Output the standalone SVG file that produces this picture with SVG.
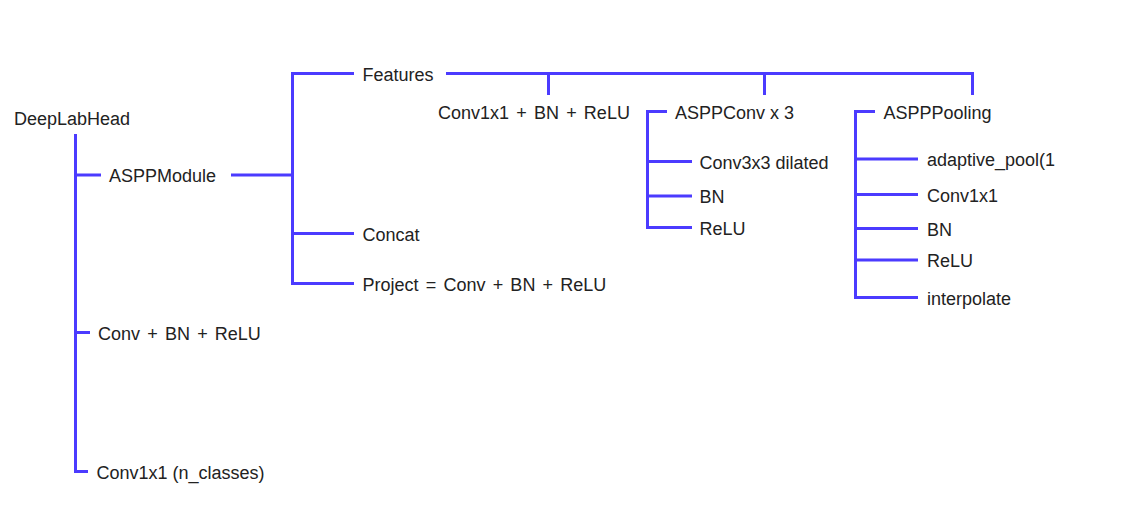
<svg xmlns="http://www.w3.org/2000/svg" width="1134" height="523" viewBox="0 0 1134 523">
<style>
.c{fill:none;stroke:#4B3BFF;stroke-width:3;stroke-linecap:butt;stroke-linejoin:miter}
.t{font-family:"Liberation Sans",Arial,sans-serif;font-size:18px;fill:#222}
.w{word-spacing:2.2px}
</style>
<defs>
<clipPath id="clipR"><rect x="0" y="0" width="1058" height="523"/></clipPath>
</defs>
<rect width="1134" height="523" fill="#fff"/>
<g id="connectors">
<path class="c" d="M75.5,134 V471.5 H88"/>
<path class="c" d="M75.5,175 H101"/>
<path class="c" d="M75.5,332.5 H90"/>
<path class="c" d="M231,175 H292.5"/>
<path class="c" d="M354,73.5 H292.5 V283.5 H354"/>
<path class="c" d="M292.5,233.5 H354"/>
<path class="c" d="M446,73.5 H972.5 V95"/>
<path class="c" d="M548.5,73.5 V95"/>
<path class="c" d="M764.5,73.5 V95"/>
<path class="c" d="M667,111.5 H647.5 V227.5 H692"/>
<path class="c" d="M647.5,161.5 H692"/>
<path class="c" d="M647.5,196 H692"/>
<path class="c" d="M875,111.5 H855.5 V297.5 H918"/>
<path class="c" d="M855.5,159 H918"/>
<path class="c" d="M855.5,194.5 H918"/>
<path class="c" d="M855.5,228.5 H918"/>
<path class="c" d="M855.5,260 H918"/>
</g>
<g id="n_deeplabhead"><text class="t" x="14" y="125">DeepLabHead</text></g>
<g id="n_asppmodule"><text class="t" x="109" y="182">ASPPModule</text></g>
<g id="n_conv_bn_relu"><text class="t w" x="98" y="339.5">Conv + BN + ReLU</text></g>
<g id="n_conv1x1_ncls"><text class="t" x="96.5" y="478.5">Conv1x1 (n_classes)</text></g>
<g id="n_features"><text class="t" x="362.5" y="80.5">Features</text></g>
<g id="n_concat"><text class="t" x="362.5" y="240.5">Concat</text></g>
<g id="n_project"><text class="t w" x="362.5" y="290.5">Project = Conv + BN + ReLU</text></g>
<g id="n_conv1x1_bn_relu"><text class="t w" x="438" y="118.5">Conv1x1 + BN + ReLU</text></g>
<g id="n_asppconv"><text class="t" x="675" y="118.5">ASPPConv x 3</text></g>
<g id="n_conv3x3"><text class="t" x="699.5" y="168.5">Conv3x3 dilated</text></g>
<g id="n_bn1"><text class="t" x="699.5" y="203">BN</text></g>
<g id="n_relu1"><text class="t" x="699.5" y="234.5">ReLU</text></g>
<g id="n_aspppooling"><text class="t" x="883.5" y="118.5">ASPPPooling</text></g>
<g id="n_adaptive"><text class="t" x="927" y="166" clip-path="url(#clipR)">adaptive_pool(1</text></g>
<g id="n_conv1x1"><text class="t" x="927" y="201.5">Conv1x1</text></g>
<g id="n_bn2"><text class="t" x="927" y="235.5">BN</text></g>
<g id="n_relu2"><text class="t" x="927" y="267">ReLU</text></g>
<g id="n_interpolate"><text class="t" x="927" y="304.5">interpolate</text></g>
</svg>
